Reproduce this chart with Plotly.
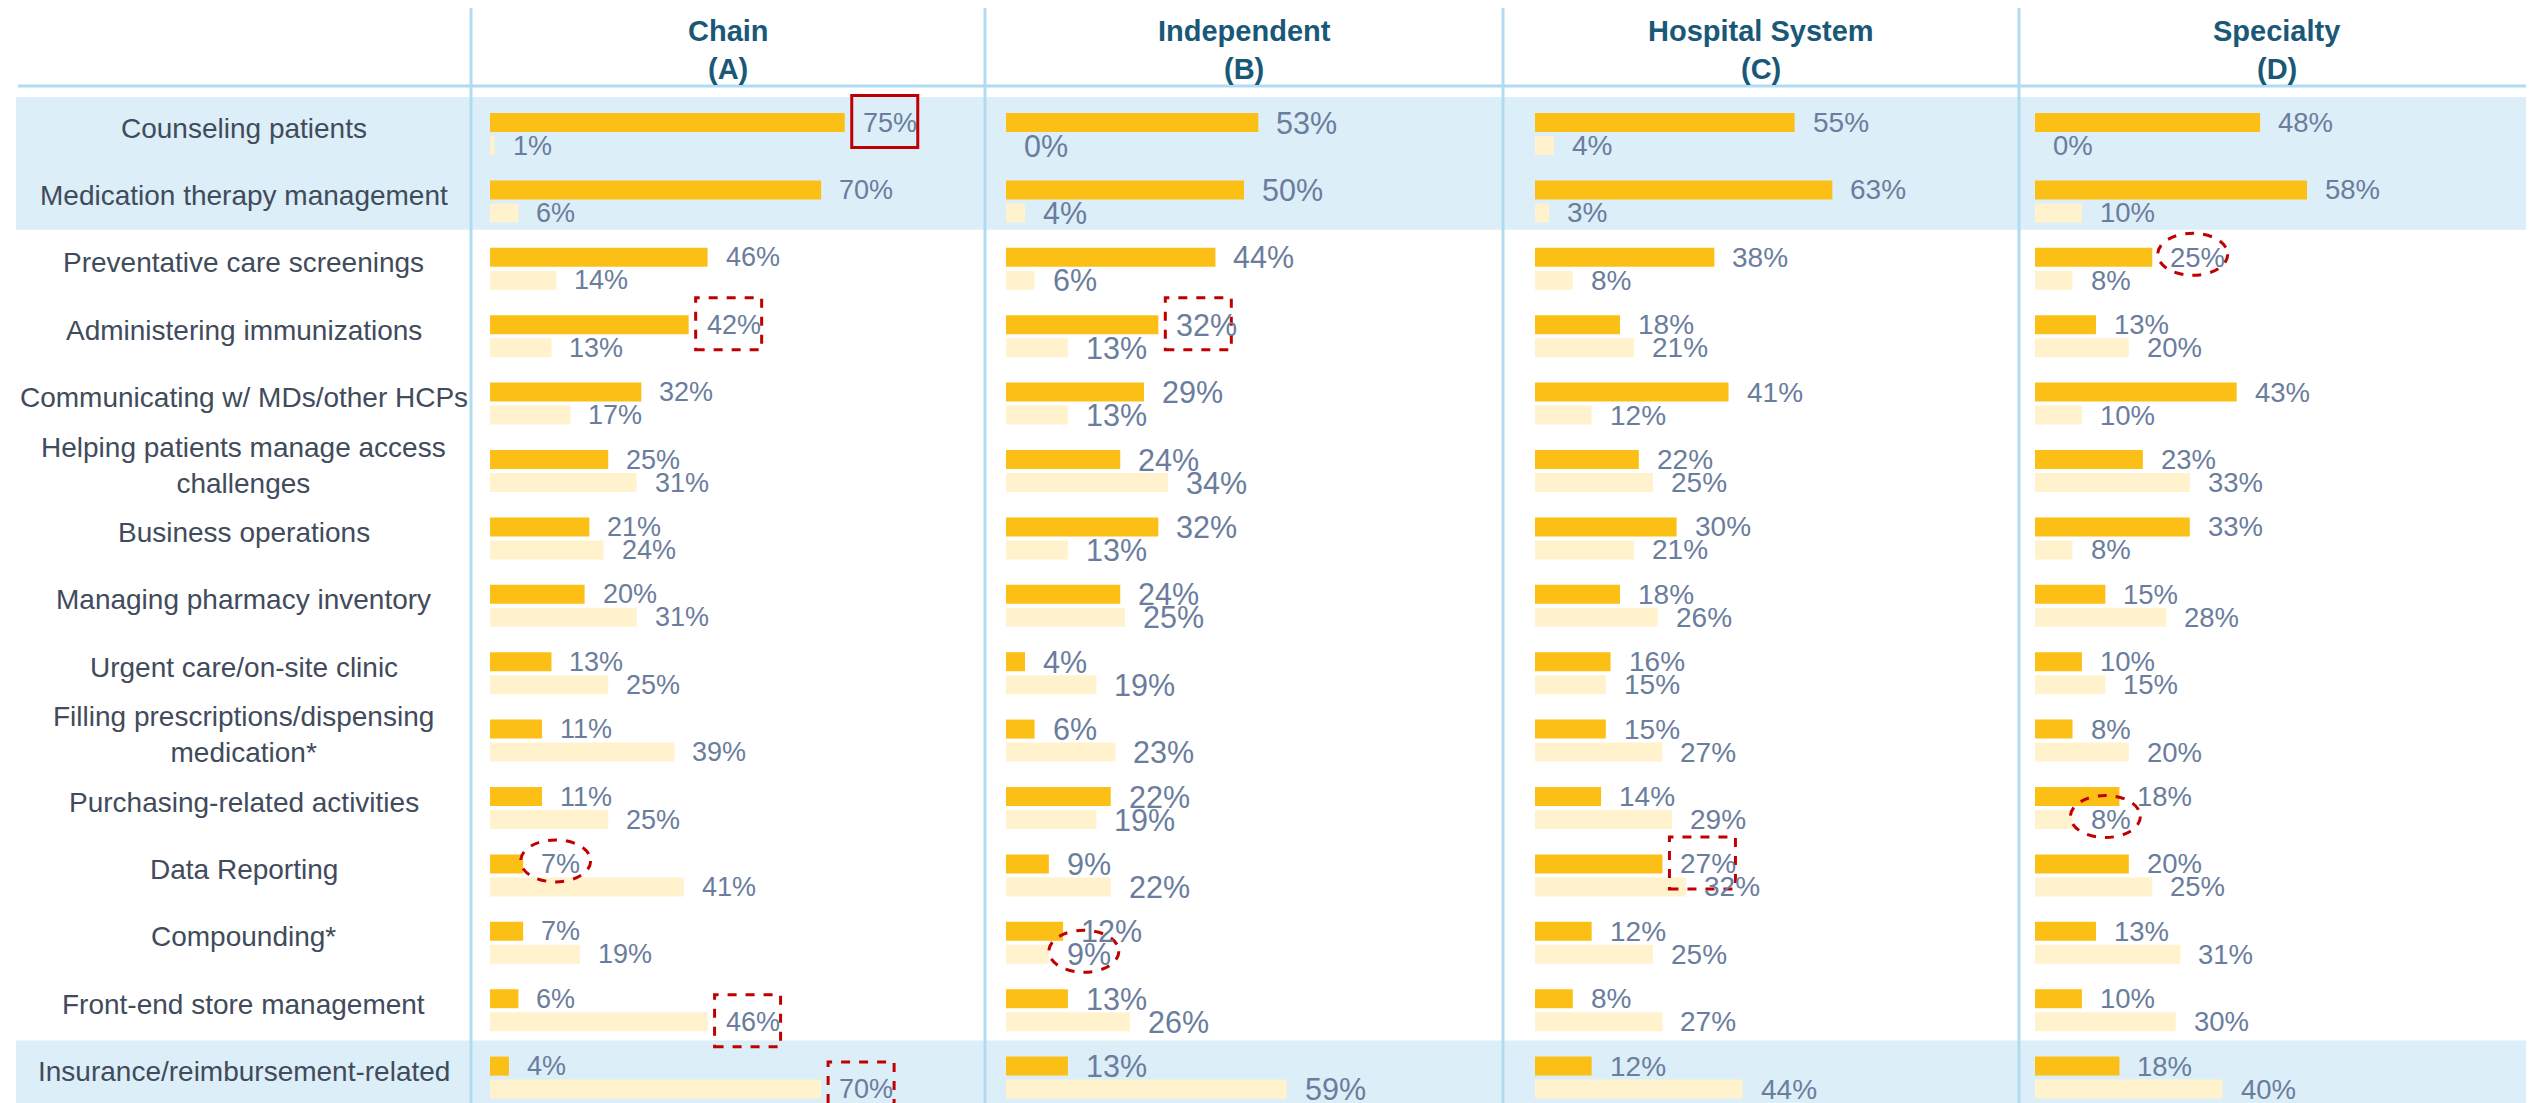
import plotly.graph_objects as go

# ---------------- data ----------------
categories = [
    "Counseling patients",
    "Medication therapy management",
    "Preventative care screenings",
    "Administering immunizations",
    "Communicating w/ MDs/other HCPs",
    "Helping patients manage access<br>challenges",
    "Business operations",
    "Managing pharmacy inventory",
    "Urgent care/on-site clinic",
    "Filling prescriptions/dispensing<br>medication*",
    "Purchasing-related activities",
    "Data Reporting",
    "Compounding*",
    "Front-end store management",
    "Insurance/reimbursement-related",
]

columns = ["Chain", "Independent", "Hospital System", "Specialty"]
column_letters = ["(A)", "(B)", "(C)", "(D)"]

chain_dark = [75, 70, 46, 42, 32, 25, 21, 20, 13, 11, 11, 7, 7, 6, 4]
chain_light = [1, 6, 14, 13, 17, 31, 24, 31, 25, 39, 25, 41, 19, 46, 70]
independent_dark = [53, 50, 44, 32, 29, 24, 32, 24, 4, 6, 22, 9, 12, 13, 13]
independent_light = [0, 4, 6, 13, 13, 34, 13, 25, 19, 23, 19, 22, 9, 26, 59]
hospital_dark = [55, 63, 38, 18, 41, 22, 30, 18, 16, 15, 14, 27, 12, 8, 12]
hospital_light = [4, 3, 8, 21, 12, 25, 21, 26, 15, 27, 29, 32, 25, 27, 44]
specialty_dark = [48, 58, 25, 13, 43, 23, 33, 15, 10, 8, 18, 20, 13, 10, 18]
specialty_light = [0, 10, 8, 20, 10, 33, 8, 28, 15, 20, 8, 25, 31, 30, 40]

dark_series = [chain_dark, independent_dark, hospital_dark, specialty_dark]
light_series = [chain_light, independent_light, hospital_light, specialty_light]

highlighted_rows = [[0, 1], [14]]

# (column index, row index, series, kind)
callouts = [
    (0, 0, "dark", "box_solid"),
    (0, 3, "dark", "box"),
    (1, 3, "dark", "box"),
    (3, 2, "dark", "ellipse"),
    (0, 11, "dark", "ellipse"),
    (0, 13, "light", "box"),
    (0, 14, "light", "box"),
    (1, 12, "light", "ellipse"),
    (2, 11, "dark", "box"),
    (3, 10, "light", "ellipse"),
]

# ---------------- layout / style ----------------
W, H = 2534, 1103
OFF = 8  # page body margin
ROW_PX = 67.4
FIRST_ROW_PX = 134.0 - OFF
col_start_px = [p - OFF for p in (490, 1006, 1535, 2035)]
col_end_px = [p - OFF for p in (985, 1503, 2018, 2534)]
px_per_pct = [4.73, 4.76, 4.72, 4.69]
divider_px = [p - OFF for p in (471, 985, 1503, 2019)]
right_px = W - OFF
label_center_px = 244 - OFF
value_sizes = [27, 30.5, 28, 27.5]

DARK = "#FBBF15"
LIGHT = "#FFF2CC"
BAND = "#DCEEF8"
LINE = "#B0DBF1"
TITLE_C = "#1A5878"
LABEL_C = "#414B5B"
VALUE_C = "#6A7D9D"
RED = "#C00000"
FONT = "Liberation Sans, Arial, sans-serif"

BAR_W = 19 / ROW_PX
DARK_OFF = -21 / ROW_PX
LIGHT_OFF = 2 / ROW_PX
DARK_MID = DARK_OFF + BAR_W / 2
LIGHT_MID = LIGHT_OFF + BAR_W / 2

n = len(categories)
rows = list(range(n))

y_top = -FIRST_ROW_PX / ROW_PX
y_bot = (H - FIRST_ROW_PX) / ROW_PX

fig = go.Figure()
annotations = []
shapes = []

for c in range(4):
    xa = "x" if c == 0 else f"x{c + 1}"
    fig.add_trace(go.Bar(
        x=dark_series[c], y=rows, orientation="h", xaxis=xa, yaxis="y",
        width=BAR_W, offset=DARK_OFF, marker=dict(color=DARK, line=dict(width=0)),
        name="Top choice", showlegend=False, hoverinfo="x",
    ))
    fig.add_trace(go.Bar(
        x=light_series[c], y=rows, orientation="h", xaxis=xa, yaxis="y",
        width=BAR_W, offset=LIGHT_OFF, marker=dict(color=LIGHT, line=dict(width=0)),
        name="Bottom choice", showlegend=False, hoverinfo="x",
    ))
    for i in rows:
        for vals, mid in ((dark_series[c], DARK_MID), (light_series[c], LIGHT_MID)):
            annotations.append(dict(
                x=vals[i], y=i + mid, xref=xa, yref="y", text=f"{vals[i]}%",
                showarrow=False, xanchor="left", yanchor="middle", xshift=16,
                font=dict(family=FONT, size=value_sizes[c], color=VALUE_C),
            ))
    right = divider_px[c + 1] if c < 3 else right_px
    center = (divider_px[c] + right) / 2 / W
    annotations.append(dict(
        x=center, y=1 - (31 - OFF) / H, xref="paper", yref="paper", text=columns[c],
        showarrow=False, xanchor="center", yanchor="middle",
        font=dict(family=FONT, size=29, color=TITLE_C, weight="bold"),
    ))
    annotations.append(dict(
        x=center, y=1 - (69 - OFF) / H, xref="paper", yref="paper", text=column_letters[c],
        showarrow=False, xanchor="center", yanchor="middle",
        font=dict(family=FONT, size=29, color=TITLE_C, weight="bold"),
    ))

for i, cat in enumerate(categories):
    annotations.append(dict(
        x=label_center_px / W, y=i, xref="paper", yref="y", text=cat,
        showarrow=False, xanchor="center", yanchor="middle", yshift=6,
        font=dict(family=FONT, size=28, color=LABEL_C),
    ))

# highlighted bands
for grp in highlighted_rows:
    shapes.append(dict(
        type="rect", xref="paper", yref="y", x0=(16 - OFF) / W, x1=1,
        y0=grp[0] - 0.55, y1=grp[-1] + 0.42 if grp[-1] < n - 1 else y_bot + 1,
        fillcolor=BAND, line=dict(width=0), layer="below",
    ))

# header line and dividers
shapes.append(dict(
    type="line", xref="paper", yref="paper", x0=(18 - OFF) / W, x1=1,
    y0=1 - (86 - OFF) / H, y1=1 - (86 - OFF) / H, line=dict(color=LINE, width=3), layer="above",
))
for d in divider_px:
    shapes.append(dict(
        type="line", xref="paper", yref="paper", x0=d / W, x1=d / W,
        y0=0, y1=1, line=dict(color=LINE, width=3), layer="above",
    ))

# red callouts around value labels
for c, r, s, kind in callouts:
    xa = "x" if c == 0 else f"x{c + 1}"
    vals = dark_series[c] if s == "dark" else light_series[c]
    v = vals[r]
    mid = DARK_MID if s == "dark" else LIGHT_MID
    txt_w = (0.556 * len(str(v)) + 0.889) * value_sizes[c]
    if kind.startswith("box"):
        shapes.append(dict(
            type="rect", xref=xa, yref="y", xsizemode="pixel", ysizemode="pixel",
            xanchor=v, yanchor=r + mid, x0=7, x1=73, y0=-25, y1=27,
            line=dict(color=RED, width=3, dash="solid" if kind == "box_solid" else "dash"),
            fillcolor="rgba(0,0,0,0)", layer="above",
        ))
    else:
        cx = 16 + txt_w / 2 - 3
        shapes.append(dict(
            type="circle", xref=xa, yref="y", xsizemode="pixel", ysizemode="pixel",
            xanchor=v, yanchor=r + mid, x0=cx - 35, x1=cx + 35, y0=-18, y1=24,
            line=dict(color=RED, width=3, dash="dash"),
            fillcolor="rgba(0,0,0,0)", layer="above",
        ))

layout_axes = {}
for c in range(4):
    key = "xaxis" if c == 0 else f"xaxis{c + 1}"
    layout_axes[key] = dict(
        domain=[col_start_px[c] / W, col_end_px[c] / W],
        range=[0, (col_end_px[c] - col_start_px[c]) / px_per_pct[c]],
        visible=False, fixedrange=True, anchor="y",
    )

fig.update_layout(
    width=W, height=H,
    margin=dict(l=0, r=0, t=0, b=0),
    paper_bgcolor="white", plot_bgcolor="rgba(0,0,0,0)",
    barmode="overlay",
    yaxis=dict(range=[y_bot, y_top], visible=False, fixedrange=True, domain=[0, 1]),
    annotations=annotations,
    shapes=shapes,
    showlegend=False,
    **layout_axes,
)
for tr in fig.data:
    tr.update(cliponaxis=False)

fig.write_html("out.html")
